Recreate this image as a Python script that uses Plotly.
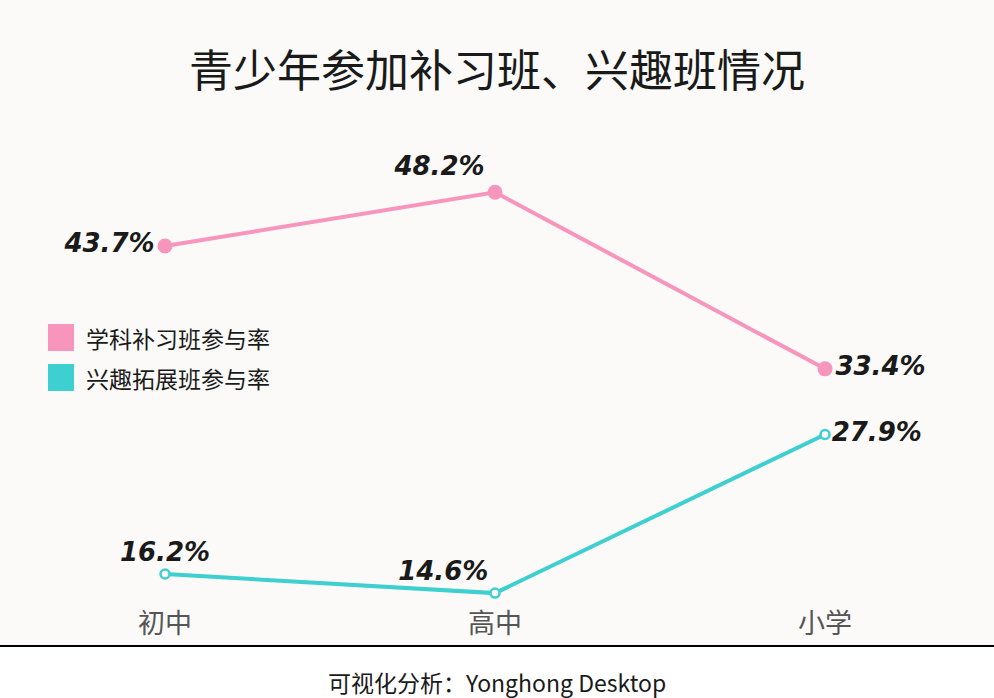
import plotly.graph_objs as go

categories = ['初中', '高中', '小学']
tutoring = [43.7, 48.2, 33.4]
interest = [16.2, 14.6, 27.9]
series_names = ['学科补习班参与率', '兴趣拓展班参与率']

pink = '#f895bd'
teal = '#3ecfd1'
cjk = 'Noto Sans CJK SC'
label_font = dict(family='DejaVu Sans', size=26, color='#1a1a1a', weight='bold', style='italic')


# pixel -> paper helpers (plot area spans y 100..600, x 0..994)
def py(p):
    return (600 - p) / 500


def px(p):
    return p / 994


data = [
    go.Scatter(x=categories, y=tutoring, mode='lines+markers+text',
               line=dict(color=pink, width=4),
               marker=dict(color=pink, size=15),
               text=['%.1f%%' % v for v in tutoring],
               textposition=['middle left', 'top left', 'middle right'],
               textfont=label_font, showlegend=False, cliponaxis=False),
    go.Scatter(x=categories, y=interest, mode='lines+markers+text',
               line=dict(color=teal, width=4),
               marker=dict(color='white', size=9, line=dict(color=teal, width=2.5)),
               text=['%.1f%%' % v for v in interest],
               textposition=['top center', 'top left', 'middle right'],
               textfont=label_font, showlegend=False, cliponaxis=False),
]

# hand-drawn legend: squares + names
shapes = [
    dict(type='rect', xref='paper', yref='paper', x0=px(-10), x1=px(1010), y0=py(646), y1=py(710),
         fillcolor='white', line=dict(width=0), layer='below'),
    dict(type='line', xref='paper', yref='paper', x0=px(-10), x1=px(1010), y0=py(646), y1=py(646),
         line=dict(color='black', width=2)),
]
annotations = [
    dict(text='可视化分析：Yonghong Desktop', xref='paper', yref='paper', x=0.5, y=py(682),
         xanchor='center', yanchor='middle', showarrow=False,
         font=dict(family=cjk, size=23, color='#1a1a1a')),
]
for i, (name, color) in enumerate(zip(series_names, [pink, teal])):
    top = 324 + i * 40
    shapes.append(dict(type='rect', xref='paper', yref='paper', x0=px(48), x1=px(74),
                       y0=py(top), y1=py(top + 27), fillcolor=color, line=dict(width=0)))
    annotations.append(dict(text=name, xref='paper', yref='paper', x=px(84), y=py(top + 14),
                            xanchor='left', yanchor='middle', showarrow=False,
                            font=dict(family=cjk, size=23, color='#1a1a1a')))

layout = go.Layout(
    width=994, height=698,
    margin=dict(l=0, r=0, t=100, b=98),
    paper_bgcolor='#fbfaf8', plot_bgcolor='#fbfaf8',
    showlegend=False,
    title=dict(text='青少年参加补习班、兴趣班情况', x=0.5, xanchor='center', y=0.897, yanchor='middle',
               font=dict(family=cjk, size=44, color='#1a1a1a', weight=400)),
    xaxis=dict(type='category', range=[-0.5, 2.512], showgrid=False, zeroline=False,
               showline=False, ticks='', ticklabelstandoff=5,
               tickfont=dict(family=cjk, size=27, color='#555555')),
    yaxis=dict(range=[(767.3 - 600) / 11.93, (767.3 - 100) / 11.93], visible=False),
    shapes=shapes,
    annotations=annotations,
)

fig = go.Figure(data=data, layout=layout)
fig.write_html('out.html', config=dict(displayModeBar=False),
               post_script="document.body.style.margin='0';")
